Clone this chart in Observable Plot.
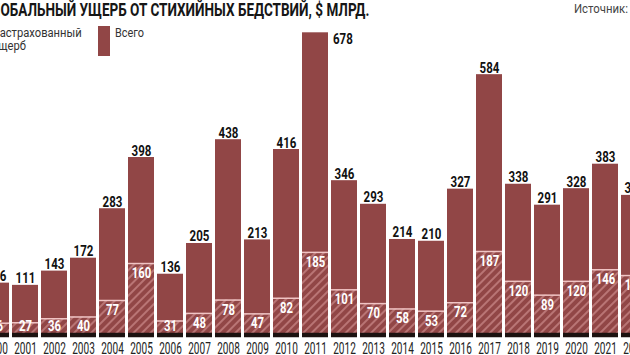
<!DOCTYPE html>
<html><head><meta charset="utf-8">
<script src="https://cdn.jsdelivr.net/npm/d3@7"></script>
<script src="https://cdn.jsdelivr.net/npm/@observablehq/plot@0.6"></script>
<style>
html,body{margin:0;padding:0;background:#fff;overflow:hidden;width:630px;height:355px;}
#wrap{position:relative;width:630px;height:355px;overflow:hidden;font-family:Roboto,"DejaVu Sans",sans-serif;}
#chart{position:absolute;left:-30px;top:0;width:690px;height:355px;}
.t{position:absolute;white-space:nowrap;transform-origin:0 0;}
.title{top:-1px;font-size:18.5px;font-weight:bold;color:#161616;line-height:22px;}
.source{top:1px;font-size:12px;color:#444;line-height:16px;}
.sw{position:absolute;width:12px;height:30px;}
.lt{font-size:12.5px;line-height:12.5px;color:#333;top:27px;}
</style></head>
<body><div id="wrap">
<div id="chart"></div>
<div class="t title" id="title"><span id="tcut">ГЛ</span><span id="trest">ОБАЛЬНЫЙ УЩЕРБ ОТ СТИХИЙНЫХ БЕДСТВИЙ, $ МЛРД.</span></div>
<div class="t source" id="source"><span id="srest">Источник:</span> Aon</div>
<svg class="sw" style="left:-24px;top:26px" width="12" height="30"><defs><pattern id="lh" patternUnits="userSpaceOnUse" width="6" height="6" patternTransform="rotate(45)"><rect width="6" height="6" fill="#914646"/><line x1="3" y1="0" x2="3" y2="6" stroke="#d49494" stroke-width="1.2"/></pattern></defs><rect width="12" height="30" fill="url(#lh)"/></svg>
<div class="t lt" id="lins"><span id="lcut">З</span><span id="lrest">астрахованный</span><br>ущерб</div>
<div class="sw" style="left:98px;top:26px;background:#914646"></div>
<div class="t lt" id="ltot">Всего</div>
</div>
<script>
const years = [2000,2001,2002,2003,2004,2005,2006,2007,2008,2009,2010,2011,2012,2013,2014,2015,2016,2017,2018,2019,2020,2021,2022];
const total = [116,111,143,172,283,398,136,205,438,213,416,678,346,293,214,210,327,584,338,291,328,383,313];
const insured = [26,27,36,40,77,160,31,48,78,47,82,185,101,70,58,53,72,187,120,89,120,146,133];

const data = years.map((y,i)=>({year:y,total:total[i],insured:insured[i]}));
const maxT = d3.max(total);
const BAR = "#914646";
const FONT = 'Roboto,"DejaVu Sans",sans-serif';

const defs = d3.create("svg:defs");
const pat = defs.append("pattern").attr("id","hatch").attr("patternUnits","userSpaceOnUse")
  .attr("width",6).attr("height",6).attr("patternTransform","rotate(45)");
pat.append("rect").attr("width",6).attr("height",6).attr("fill",BAR);
pat.append("line").attr("x1",3).attr("y1",0).attr("x2",3).attr("y2",6).attr("stroke","#d49494").attr("stroke-width",1.2);

const plot = Plot.plot({
  width: 690, height: 355,
  marginLeft: 10, marginRight: 9.6, marginTop: 22.5, marginBottom: 20.7,
  x: {type:"band", domain: years, paddingInner: 0.1, paddingOuter: 0.05},
  y: {domain:[0,700], axis:null},
  style: {fontFamily: FONT, background:"transparent", overflow:"visible", maxWidth:"none"},
  marks: [
    () => defs.node(),
    Plot.barY(data,{x:"year",y:"total",fill:BAR}),
    Plot.barY(data,{x:"year",y:"insured",fill:"url(#hatch)"}),
    Plot.tickY(data,{x:"year",y:"insured",stroke:"#f0c4c4",strokeWidth:1.5}),
    Plot.tickY(data,{x:"year",y:0,stroke:"#1c1210",strokeWidth:4.5,dy:0.2}),
    Plot.text(data.filter(d=>d.total!==maxT),{x:"year",y:"total",text:d=>String(d.total),dy:-2,lineAnchor:"bottom",fontSize:14.5,fontWeight:"bold",fill:"#111"}),
    Plot.text(data.filter(d=>d.total===maxT),{x:"year",y:"total",text:d=>String(d.total),textAnchor:"start",lineAnchor:"bottom",dx:17.5,dy:11.7,fontSize:14.5,fontWeight:"bold",fill:"#111"}),
    Plot.text(data,{x:"year",y:d=>Math.max(d.insured,42),text:d=>String(d.insured),dy:10,fill:"white",fontWeight:"bold",fontSize:14}),
    Plot.axisX({tickSize:0,tickPadding:7,fontSize:16.5,label:null,color:"#222",tickFormat:d=>String(d)})
  ]
});
document.getElementById("chart").append(plot);

// condense digits to match the narrow reference typeface
plot.querySelectorAll("text").forEach(el=>{
  const g = el.closest("g[aria-label]");
  const label = g ? g.getAttribute("aria-label") : "";
  let w;
  if (label && label.includes("tick label")) w = 5.65;
  else if (g && g.getAttribute("fill") === "white") w = 6.5;
  else w = 6.6;
  const n = el.textContent.length;
  if (n > 0) {
    el.setAttribute("textLength", (n*w).toFixed(1));
    el.setAttribute("lengthAdjust","spacingAndGlyphs");
  }
});

// condense HTML texts
function fit(el, restEl, cutEl, restWidth, leftVisible){
  const rw = restEl.getBoundingClientRect().width;
  const s = restWidth/rw;
  const cw = cutEl ? cutEl.getBoundingClientRect().width : 0;
  el.style.transform = `scaleX(${s})`;
  el.style.left = (leftVisible - cw*s) + "px";
}
fit(document.getElementById("title"), document.getElementById("trest"), document.getElementById("tcut"), 369, 0);
fit(document.getElementById("lins"), document.getElementById("lrest"), document.getElementById("lcut"), 82, 0);
fit(document.getElementById("ltot"), document.getElementById("ltot"), null, 29, 115);
fit(document.getElementById("source"), document.getElementById("srest"), null, 54, 574);
</script>
</body></html>
